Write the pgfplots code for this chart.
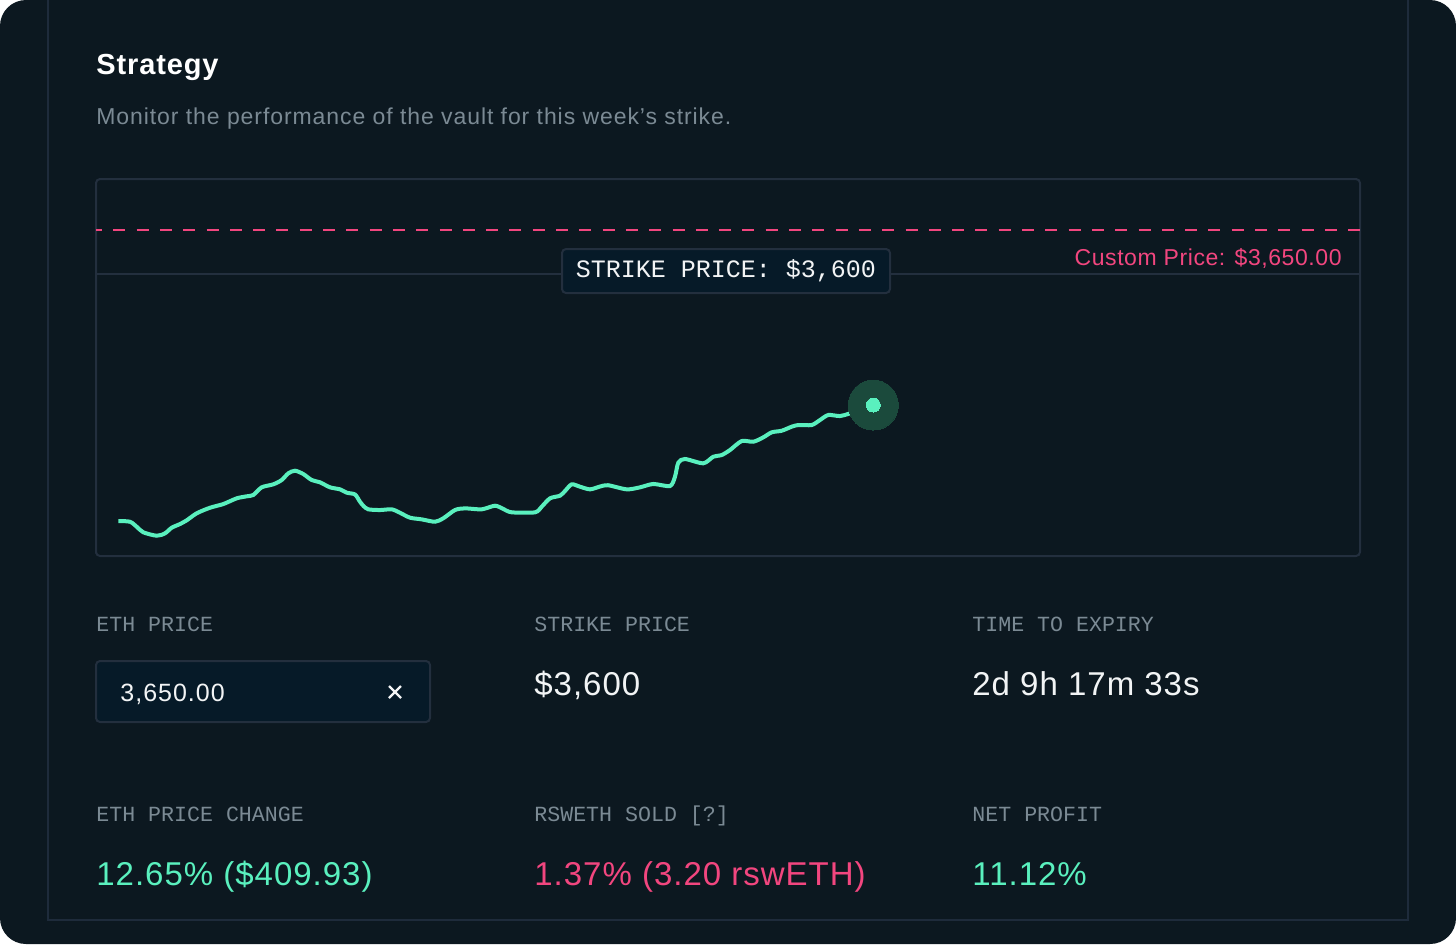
\documentclass[border=0pt]{standalone}
\usepackage{fontspec}
\setmainfont{Liberation Sans}
\setmonofont{Liberation Mono}
\usepackage{pgfplots}
\pgfplotsset{compat=1.18}

\definecolor{bg}{HTML}{0C1820}
\definecolor{frame}{HTML}{1E2B3B}
\definecolor{boxline}{HTML}{232F3E}
\definecolor{boxfill}{HTML}{061A28}
\definecolor{mint}{HTML}{5AF0BE}
\definecolor{halo}{HTML}{1B4A3C}
\definecolor{pinkc}{HTML}{F2467F}
\definecolor{mutedtext}{HTML}{7B8A94}
\definecolor{lighttext}{HTML}{F2F4F5}

% ETH price path (time step, price)
\pgfplotstableread{
t     price
118.3 3319.3
130.0 3318.5
136.7 3312.8
143.3 3306.5
156.7 3302.6
165.0 3305.3
171.7 3311.7
180.0 3315.9
186.7 3320.1
196.7 3328.1
210.0 3334.4
223.3 3338.6
236.7 3345.1
246.7 3347.4
253.3 3348.9
261.7 3357.6
273.3 3361.0
281.7 3365.9
288.3 3373.5
295.0 3376.5
303.3 3372.7
311.7 3365.9
320.0 3363.3
330.0 3357.6
340.0 3355.3
346.7 3351.5
355.0 3349.5
360.0 3341.2
363.5 3336.4
368.3 3332.6
380.0 3331.8
391.7 3332.6
400.0 3328.7
410.0 3323.1
421.7 3321.2
435.0 3318.5
443.3 3322.4
455.0 3331.8
465.0 3333.7
481.7 3332.6
495.0 3336.7
503.3 3333.0
511.7 3329.2
535.0 3329.2
541.7 3335.6
550.0 3345.1
560.0 3348.1
565.0 3353.4
571.7 3361.0
580.0 3358.3
590.0 3355.3
600.0 3358.5
608.0 3360.0
626.7 3355.3
640.0 3357.6
653.3 3361.4
670.0 3359.1
675.0 3369.7
678.3 3385.6
685.0 3389.8
703.3 3384.9
713.3 3392.4
721.7 3394.3
730.0 3400.0
741.7 3410.2
753.3 3409.4
763.3 3414.4
771.7 3420.1
781.7 3421.9
791.7 3426.5
798.3 3428.4
811.7 3428.4
820.0 3434.1
828.3 3439.8
840.0 3438.6
850.0 3441.7
873.3 3451.1
}\pricedata

\begin{document}
\begin{tikzpicture}
\useasboundingbox (0,0) rectangle (728pt,-472pt);
\fill[white] (0,0) rectangle (728pt,-472pt);
\fill[bg, rounded corners=13pt] (0,0) rectangle (728pt,-472pt);
% card frame
\draw[frame, line width=1pt] (24pt,0) -- (24pt,-460pt) -- (704pt,-460pt) -- (704pt,0);

\node[anchor=base west, inner sep=0, text=white, font=\bfseries\fontsize{14.5}{17}\selectfont\addfontfeatures{LetterSpace=3}] at (48pt,-37pt) {Strategy};
\node[anchor=base west, inner sep=0, text=mutedtext, font=\fontsize{11.5}{13}\selectfont\addfontfeatures{LetterSpace=4}] at (48pt,-62pt) {Monitor the performance of the vault for this week's strike.};

\begin{axis}[
    at={(48pt,-278pt)}, anchor=south west,
    scale only axis, width=632pt, height=188.5pt,
    xmin=96, xmax=1360, ymin=3279.55, ymax=3707.95,
    xtick=\empty, ytick=\empty,
    axis line style={draw=boxline, line width=1pt, rounded corners=2pt},
    clip=false,
]
    % strike price line
    \addplot[draw=boxline, line width=1pt] coordinates {(96,3600) (1360,3600)};
    % custom price line
    \addplot[draw=pinkc, line width=1pt, dash pattern=on 6pt off 5.65pt, dash phase=3pt] coordinates {(96,3650) (1360,3650)};
    % price path
    \addplot[draw=mint, line width=2pt, smooth, tension=0.45] table[x=t, y=price] {\pricedata};
    \addplot[color=halo, only marks, mark=*, mark size=12.5pt, mark options={fill=halo, draw=halo, line width=0pt}] coordinates {(873.3,3451.1)};
    \addplot[color=mint, only marks, mark=*, mark size=3.5pt, mark options={fill=mint, draw=mint, line width=0pt}] coordinates {(873.3,3451.1)};

    \node[anchor=base east, inner sep=0, text=pinkc, font=\fontsize{11.5}{13}\selectfont\addfontfeatures{LetterSpace=2.5}] at (axis cs:1342,3610.2) {Custom Price: \$3,650.00};
    \node[fill=boxfill, draw=boxline, line width=1pt, rounded corners=2pt, minimum width=164pt, minimum height=22pt, inner sep=0, text=lighttext, font=\ttfamily\fontsize{12.5}{14}\selectfont] at (axis cs:726,3603.4) {STRIKE PRICE: \$3,600};
\end{axis}

% stats
\begin{scope}[every node/.style={anchor=base west, inner sep=0}]
\node[text=mutedtext, font=\ttfamily\fontsize{10.8}{12}\selectfont] at (48pt,-315.5pt) {ETH PRICE};
\node[text=mutedtext, font=\ttfamily\fontsize{10.8}{12}\selectfont] at (267pt,-315.5pt) {STRIKE PRICE};
\node[text=mutedtext, font=\ttfamily\fontsize{10.8}{12}\selectfont] at (486pt,-315.5pt) {TIME TO EXPIRY};
\node[text=mutedtext, font=\ttfamily\fontsize{10.8}{12}\selectfont] at (48pt,-410.5pt) {ETH PRICE CHANGE};
\node[text=mutedtext, font=\ttfamily\fontsize{10.8}{12}\selectfont] at (267pt,-410.5pt) {RSWETH SOLD [?]};
\node[text=mutedtext, font=\ttfamily\fontsize{10.8}{12}\selectfont] at (486pt,-410.5pt) {NET PROFIT};
\end{scope}

\draw[fill=boxfill, draw=boxline, line width=1pt, rounded corners=2pt] (48pt,-330.5pt) rectangle (215pt,-361pt);
\node[anchor=base west, inner sep=0, text=lighttext, font=\fontsize{12.5}{14}\selectfont\addfontfeatures{LetterSpace=4}] at (60pt,-350.5pt) {3,650.00};
\draw[lighttext, line width=1.1pt] (194.5pt,-343pt) -- (200.5pt,-349pt) (194.5pt,-349pt) -- (200.5pt,-343pt);

\begin{scope}[every node/.style={anchor=base west, inner sep=0, font=\fontsize{16.5}{19}\selectfont\addfontfeatures{LetterSpace=3}}]
\node[text=lighttext] at (267pt,-347.5pt) {\$3,600};
\node[text=lighttext] at (486pt,-347.5pt) {2d 9h 17m 33s};
\node[text=mint] at (48pt,-442.5pt) {12.65\% (\$409.93)};
\node[text=pinkc] at (267pt,-442.5pt) {1.37\% (3.20 rswETH)};
\node[text=mint] at (486pt,-442.5pt) {11.12\%};
\end{scope}
\end{tikzpicture}
\end{document}
